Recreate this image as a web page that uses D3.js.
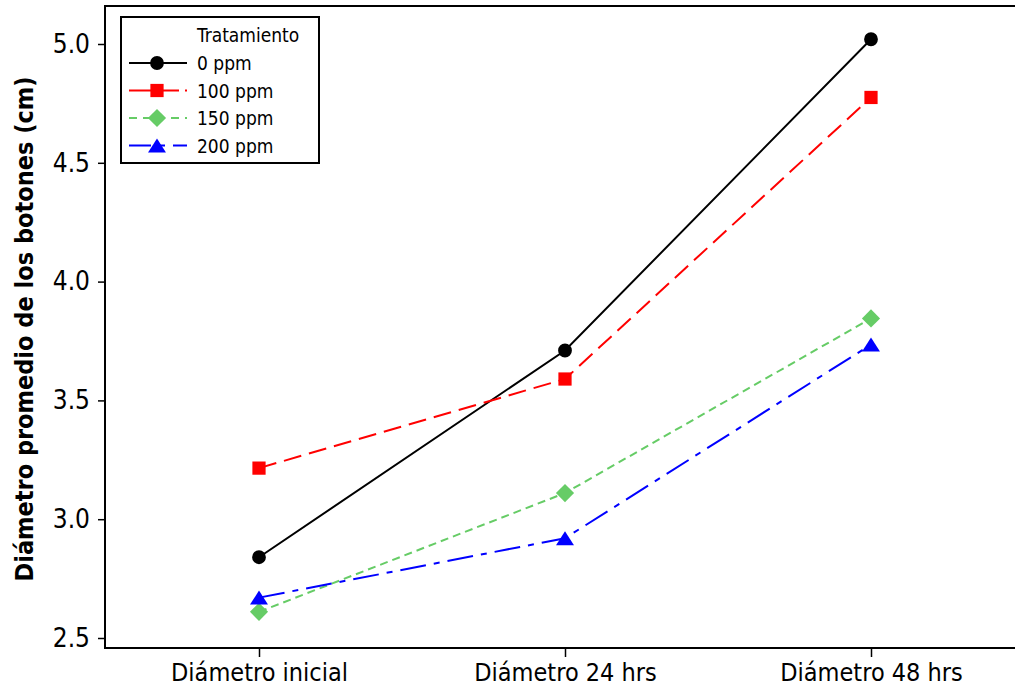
<!DOCTYPE html>
<html><head><meta charset="utf-8">
<script src="https://cdn.jsdelivr.net/npm/d3@7"></script>
<style>body{margin:0;background:#fff}svg{display:block}</style>
</head><body>
<svg id="c" width="1015" height="689"></svg>
<script>
const categories = ["Diámetro inicial", "Diámetro 24 hrs", "Diámetro 48 hrs"];
const seriesNames = ["0 ppm", "100 ppm", "150 ppm", "200 ppm"];
const values0 = [2.84, 3.71, 5.02];
const values100 = [3.215, 3.59, 4.775];
const values150 = [2.61, 3.11, 3.845];
const values200 = [2.67, 2.92, 3.735];
const yTicks = [2.5, 3.0, 3.5, 4.0, 4.5, 5.0];
const legendTitle = "Tratamiento";
const yTitle = "Diámetro promedio de los botones (cm)";

(function () {
const series = [
  {name: seriesNames[0], values: values0, color: "#000000", dash: null, legDash: null, marker: "circle"},
  {name: seriesNames[1], values: values100, color: "#ff0000", dash: "18,8", legDash: "22,6", marker: "square"},
  {name: seriesNames[2], values: values150, color: "#66cc66", dash: "8,5", legDash: "8,6", marker: "diamond"},
  {name: seriesNames[3], values: values200, color: "#0000ff", dash: "26,8,6,8", legDash: "22,8,6,8", marker: "triangle"}
];

const svg = d3.select("#c");
const font = "'DejaVu Sans Condensed', 'DejaVu Sans', sans-serif";
const y = d3.scaleLinear().domain([2.5, 5.0]).range([638, 44]);
const x = d3.scalePoint().domain(categories).range([259, 871]);
const pLeft = 105, pTop = 6, pBottom = 648, pRight = 1030;

// frame
svg.append("rect").attr("x", pLeft).attr("y", pTop).attr("width", pRight - pLeft).attr("height", pBottom - pTop)
  .attr("fill", "none").attr("stroke", "#000").attr("stroke-width", 2);

// y axis
const yAxis = d3.axisLeft(y).tickValues(yTicks).tickFormat(d3.format(".1f")).tickSize(7).tickPadding(8);
const gy = svg.append("g").attr("transform", `translate(${pLeft},0)`).call(yAxis);
gy.select(".domain").remove();
gy.selectAll("line").attr("stroke-width", 1.5);
gy.selectAll("text").attr("font-family", font).attr("font-stretch", "condensed").attr("font-size", 26).attr("fill", "#000");

// x axis
const xAxis = d3.axisBottom(x).tickSize(9).tickPadding(6);
const gx = svg.append("g").attr("transform", `translate(0,${pBottom})`).call(xAxis);
gx.select(".domain").remove();
gx.selectAll("line").attr("stroke-width", 1.5);
gx.selectAll("text").attr("font-family", font).attr("font-stretch", "condensed").attr("font-size", 25).attr("fill", "#000");

// y title
svg.append("text").attr("transform", `translate(33,329) rotate(-90)`).attr("text-anchor", "middle")
  .attr("font-family", font).attr("font-stretch", "condensed").attr("font-weight", "bold").attr("font-size", 25).text(yTitle);

const triangle = {draw(ctx, size) { const w = Math.sqrt(size * 2.3), h = w * 0.78;
  ctx.moveTo(0, -h / 2); ctx.lineTo(w / 2, h / 2); ctx.lineTo(-w / 2, h / 2); ctx.closePath(); }};
const diamond = {draw(ctx, size) { const r = Math.sqrt(size / 2);
  ctx.moveTo(0, -r); ctx.lineTo(r, 0); ctx.lineTo(0, r); ctx.lineTo(-r, 0); ctx.closePath(); }};
const symbolType = {circle: d3.symbolCircle, square: d3.symbolSquare, diamond: diamond, triangle: triangle};
const symbolSize = {circle: 150, square: 175, diamond: 165, triangle: 140};

const line = d3.line().x((d, i) => x(categories[i])).y(d => y(d));
series.forEach(s => {
  svg.append("path").attr("d", line(s.values)).attr("fill", "none").attr("stroke", s.color)
    .attr("stroke-width", 2).attr("stroke-dasharray", s.dash);
});
series.forEach(s => {
  svg.selectAll(null).data(s.values).enter().append("path")
    .attr("d", d3.symbol().type(symbolType[s.marker]).size(symbolSize[s.marker]))
    .attr("transform", (d, i) => `translate(${x(categories[i])},${y(d)})`)
    .attr("fill", s.color);
});

// legend
const lg = svg.append("g");
lg.append("rect").attr("x", 121).attr("y", 17).attr("width", 198).attr("height", 146)
  .attr("fill", "#fff").attr("stroke", "#000").attr("stroke-width", 2);
lg.append("text").attr("x", 197).attr("y", 42).attr("font-family", font).attr("font-stretch", "condensed").attr("font-size", 19).text(legendTitle);
series.forEach((s, i) => {
  const cy = 63 + i * 27.5;
  lg.append("line").attr("x1", 129).attr("x2", 187).attr("y1", cy).attr("y2", cy)
    .attr("stroke", s.color).attr("stroke-width", 2).attr("stroke-dasharray", s.legDash);
  lg.append("path").attr("d", d3.symbol().type(symbolType[s.marker]).size(symbolSize[s.marker]))
    .attr("transform", `translate(157,${cy})`).attr("fill", s.color);
  lg.append("text").attr("x", 197).attr("y", cy + 7).attr("font-family", font).attr("font-stretch", "condensed").attr("font-size", 19).text(s.name);
});
})();
</script>
</body></html>
